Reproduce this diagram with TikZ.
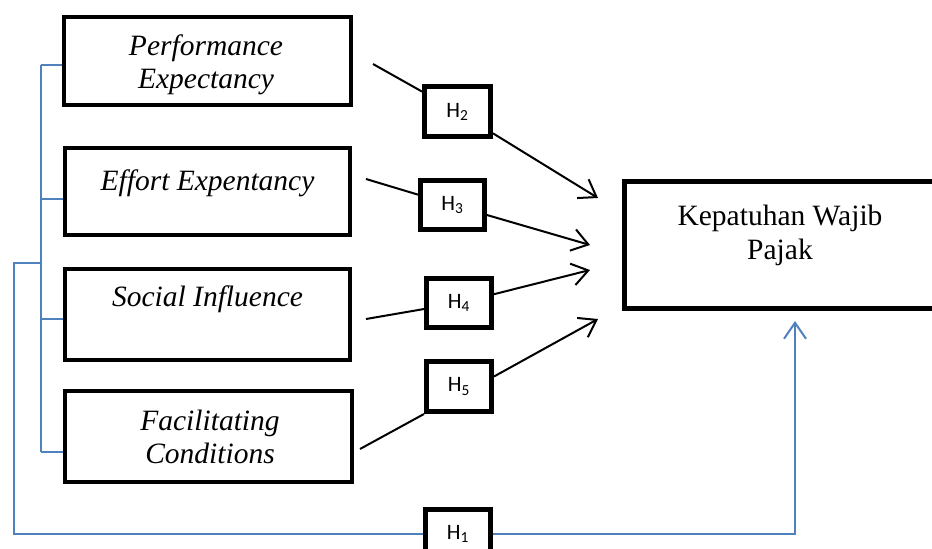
\documentclass[tikz,border=0pt]{standalone}
\usepackage{fontspec}
\setmainfont{Liberation Serif}
\newfontfamily\hfont{Carlito}
\usetikzlibrary{arrows.meta,calc}
\definecolor{bl}{RGB}{79,129,189}
\begin{document}
\begin{tikzpicture}[x=1pt,y=-1pt,
  mainbox/.style={draw,line width=4pt,fill=white,inner sep=0pt},
  hbox/.style={draw,line width=5pt,fill=white,inner sep=0pt,minimum width=65pt,minimum height=50pt,font=\hfont\fontsize{22pt}{24pt}\selectfont},
  lbl/.style={anchor=base,inner sep=0pt,font=\fontsize{29.5pt}{34pt}\selectfont\itshape},
  klbl/.style={anchor=base,inner sep=0pt,font=\fontsize{29.5pt}{34pt}\selectfont},
  conn/.style={line width=2pt,black},
  arr/.style={-{Straight Barb[length=16pt,width=22pt]}},
  blueline/.style={line width=2pt,bl}]
\useasboundingbox (0,0) rectangle (932,549);
\clip (0,0) rectangle (932,549);

\coordinate (k1) at (40.5,65);
\coordinate (k2) at (40.5,199);
\coordinate (k3) at (40.5,319);
\coordinate (k4) at (40.5,452);
\coordinate (o1) at (40.5,263);
\coordinate (o2) at (14,263);
\coordinate (kt) at (795,321);

% main boxes
\node[mainbox,minimum width=287pt,minimum height=88pt] (pe) at (207.5,61) {};
\node[mainbox,minimum width=285pt,minimum height=87pt] (ee) at (207.5,191.5) {};
\node[mainbox,minimum width=285pt,minimum height=91pt] (si) at (207.5,314.5) {};
\node[mainbox,minimum width=287pt,minimum height=91pt] (fc) at (208.5,436.5) {};
\node[draw,line width=5pt,fill=white,inner sep=0pt,minimum width=333pt,minimum height=127pt] (kp) at (791,245) {};

\node[lbl] (pe1) at (206,55) {Performance};
\node[lbl] (pe2) at (206,88.5) {Expectancy};
\node[lbl] (ee1) at (207.5,190) {Effort Expentancy};
\node[lbl] (si1) at (207.5,306.5) {Social Influence};
\node[lbl] (fc1) at (210,430) {Facilitating};
\node[lbl] (fc2) at (210,463) {Conditions};
\node[klbl] (kp1) at (780,225) {Kepatuhan Wajib};
\node[klbl] (kp2) at (780,259) {Pajak};

% blue bracket and loop
\draw[blueline] (k1) -- (k4);
\draw[blueline] (k1) -- (k1 -| pe.west);
\draw[blueline] (k2) -- (k2 -| ee.west);
\draw[blueline] (k3) -- (k3 -| si.west);
\draw[blueline] (k4) -- (k4 -| fc.west);

\node[hbox] (h1) at (458,534) {H\textsubscript{1}};
\draw[blueline] (o1) -- (o2) |- (h1.west);
\draw[blueline,arr] (h1.east) -| (kt);

% H boxes
\node[hbox,minimum width=66pt] (h2) at (457.5,111.5) {H\textsubscript{2}};
\node[hbox,minimum width=64pt,minimum height=49pt] (h3) at (452.5,205) {H\textsubscript{3}};
\node[hbox,minimum height=49pt] (h4) at (459,303) {H\textsubscript{4}};
\node[hbox] (h5) at (459,386.5) {H\textsubscript{5}};

% connectors
\coordinate (s2) at (373,64);   \coordinate (t2) at (598,198);
\coordinate (s3) at (366,179);  \coordinate (t3) at (590,245);
\coordinate (s4) at (366,319);  \coordinate (t4) at (590,270);
\coordinate (s5) at (360,449);  \coordinate (t5) at (598,319);
\draw[conn] (s2) -- (h2);
\draw[conn,arr] (h2) -- (t2);
\draw[conn] (s3) -- (h3);
\draw[conn,arr] (h3) -- (t3);
\draw[conn] (s4) -- (h4);
\draw[conn,arr] (h4) -- (t4);
\draw[conn] (s5) -- (h5.south west);
\draw[conn,arr] ($(h5.east)+(0,-10)$) -- (t5);
\end{tikzpicture}
\end{document}
